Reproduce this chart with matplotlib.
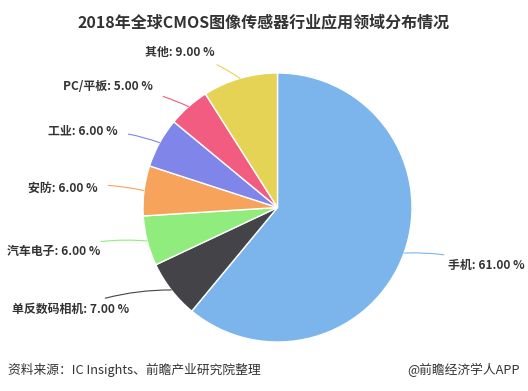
import numpy as np
import matplotlib.pyplot as plt

plt.rcParams['font.family'] = ['Noto Sans CJK SC', 'DejaVu Sans']

# data
categories = ['手机', '单反数码相机', '汽车电子', '安防', '工业', 'PC/平板', '其他']
shares = [61.00, 7.00, 6.00, 6.00, 6.00, 5.00, 9.00]
colors = ['#7cb5ec', '#434348', '#90ed7d', '#f7a35c', '#8085e9', '#f15c80', '#e4d354']
# label anchor positions (in pie radius units)
label_pos = [(1.27, -0.43), (-1.10, -0.76), (-1.32, -0.33), (-1.34, 0.145),
             (-1.19, 0.57), (-0.93, 0.90), (-0.465, 1.156)]

fig = plt.figure(figsize=(5.28, 3.91), dpi=100)
cx, cy, r = 277.5, 207.5, 134.5
ax = fig.add_axes([(cx - r) / 528, 1 - (cy + r) / 391, 2 * r / 528, 2 * r / 391])

wedges, _ = ax.pie(shares, colors=colors, startangle=90, counterclock=False,
                   radius=1, wedgeprops=dict(edgecolor='white', linewidth=1))
ax.set_xlim(-1, 1)
ax.set_ylim(-1, 1)
ax.set_aspect('equal')
ax.axis('off')

# labels with connectors
for w, name, val, (tx, ty), c in zip(wedges, categories, shares, label_pos, colors):
    ang = np.deg2rad((w.theta1 + w.theta2) / 2)
    px, py = np.cos(ang), np.sin(ang)
    right = tx > 0
    ax.annotate(f'{name}: {val:.2f} %', xy=(px, py), xytext=(tx, ty),
                ha='left' if right else 'right', va='center',
                fontsize=8.6, fontweight='bold', color='#333333',
                annotation_clip=False,
                arrowprops=dict(arrowstyle='-', color=c, lw=0.8,
                                shrinkA=6, shrinkB=0,
                                connectionstyle='arc3,rad=0.1' if right else 'arc3,rad=-0.1'))

fig.text(0.5, 1 - 22 / 391, '2018年全球CMOS图像传感器行业应用领域分布情况',
         ha='center', va='center', fontsize=11.5, fontweight='bold', color='#333333')
fig.text(8 / 528, 1 - 370 / 391, '资料来源：IC Insights、前瞻产业研究院整理',
         ha='left', va='center', fontsize=9.2, color='#333333')
fig.text(520 / 528, 1 - 370 / 391, '@前瞻经济学人APP',
         ha='right', va='center', fontsize=9.2, color='#333333')

fig.savefig('out.png', dpi=100)
